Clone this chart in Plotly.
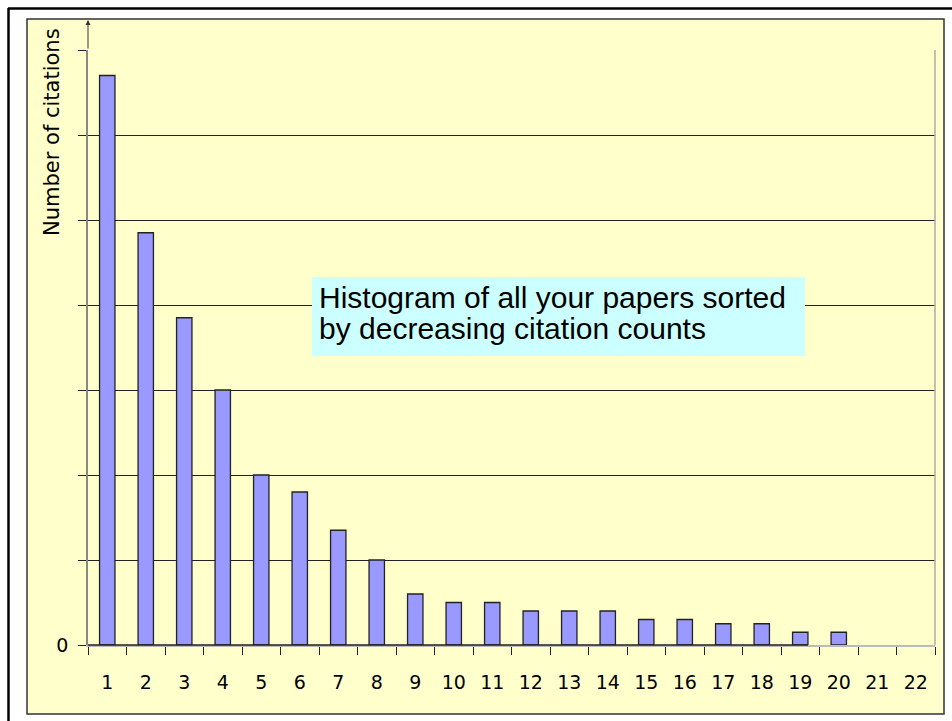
import plotly.graph_objects as go

# ---- data ----
paper_rank = [str(i) for i in range(1, 23)]
citations = [134, 97, 77, 60, 40, 36, 27, 20, 12, 10, 10, 8, 8, 8, 6, 6, 5, 5, 3, 3]
bar_labels = paper_rank[:len(citations)]
y_ticks = [0, 20, 40, 60, 80, 100, 120, 140]
y_tick_text = ["0", "", "", "", "", "", "", ""]
y_title = "Number of citations"
note_lines = ["Histogram of all your papers sorted", "by decreasing citation counts"]

W, H = 952, 721
L, R, T, B = 88, 17, 50, 76
PW, PH = W - L - R, H - T - B


def px(x):
    return (x - L) / PW


def py(y):
    return (H - B - y) / PH


fig = go.Figure()
fig.add_trace(go.Bar(
    x=bar_labels, y=citations, width=0.4,
    marker=dict(color="#9999FF", line=dict(color="#222222", width=1.3)),
))

shapes = [
    # inner panel
    dict(type="rect", xref="paper", yref="paper", x0=px(27), x1=px(944), y0=py(714), y1=py(19),
         fillcolor="#FFFFCC", line=dict(color="#333333", width=1.5), layer="below"),
    # outer frame (left and top)
    dict(type="line", xref="paper", yref="paper", x0=px(8.5), x1=px(8.5), y0=py(721), y1=py(8),
         line=dict(color="black", width=2.5)),
    dict(type="line", xref="paper", yref="paper", x0=px(8), x1=px(952), y0=py(8.5), y1=py(8.5),
         line=dict(color="black", width=2.5)),
    # plot-area right border
    dict(type="line", xref="paper", yref="paper", x0=1, x1=1, y0=0, y1=1,
         line=dict(color="#AAAAAA", width=1.5)),
    # dark part of x axis line
    dict(type="line", xref="paper", yref="paper", x0=0, x1=px(808), y0=0, y1=0,
         line=dict(color="#222222", width=1.5)),
    # note box
    dict(type="rect", xref="paper", yref="paper", x0=px(312), x1=px(805), y0=py(356), y1=py(277),
         fillcolor="#CCFFFF", line=dict(width=0), layer="above"),
]

annotations = [
    dict(xref="paper", yref="paper", x=px(52), y=py(132), text=y_title, textangle=-90,
         showarrow=False, xanchor="center", yanchor="middle",
         font=dict(family="DejaVu Sans", size=21, color="black")),
    dict(xref="paper", yref="paper", x=0, y=py(20), text="", showarrow=True,
         ax=0, ay=30, axref="pixel", ayref="pixel", arrowhead=2, arrowsize=1,
         arrowwidth=1, arrowcolor="#333333", standoff=0),
    dict(xref="paper", yref="paper", x=px(317), y=py(297), text=note_lines[0], showarrow=False,
         xanchor="left", yanchor="middle",
         font=dict(family="Liberation Sans", size=30, color="black")),
    dict(xref="paper", yref="paper", x=px(317), y=py(328), text=note_lines[1], showarrow=False,
         xanchor="left", yanchor="middle",
         font=dict(family="Liberation Sans", size=30, color="black")),
]

fig.update_layout(
    width=W, height=H,
    margin=dict(l=L, r=R, t=T, b=B, pad=0),
    paper_bgcolor="white", plot_bgcolor="#FFFFCC",
    showlegend=False, bargap=0.6,
    shapes=shapes, annotations=annotations,
    font=dict(family="DejaVu Sans", color="black"),
    xaxis=dict(type="category", categoryorder="array", categoryarray=paper_rank,
               range=[-0.5, len(paper_rank) - 0.5],
               tickson="boundaries", ticks="outside", ticklen=8, tickcolor="#222222",
               showline=True, linecolor="#BBBBBB", linewidth=1.5, showgrid=False,
               tickfont=dict(family="DejaVu Sans", size=19, color="black"),
               ticklabelstandoff=19, fixedrange=True),
    yaxis=dict(range=[0, 140], tickvals=y_ticks, ticktext=y_tick_text,
               ticks="outside", ticklen=8, tickcolor="#222222",
               showline=True, linecolor="#888888", linewidth=1.5,
               showgrid=True, gridcolor="#222222", gridwidth=1, zeroline=False,
               tickfont=dict(family="DejaVu Sans", size=19, color="black"),
               ticklabelstandoff=6, fixedrange=True),
)

fig.write_html(
    "out.html",
    config={"displayModeBar": False},
    post_script="document.body.style.margin='0';document.body.style.overflow='hidden';",
)
